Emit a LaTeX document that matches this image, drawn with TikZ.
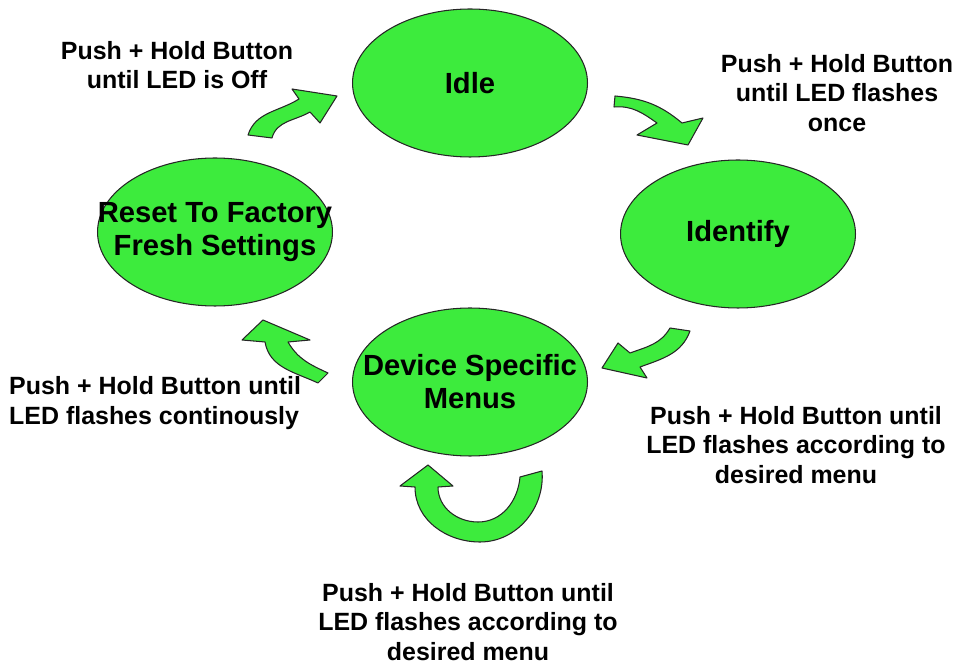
\documentclass[tikz,border=0pt]{standalone}
\usepackage{fontspec}
\setmainfont{Liberation Sans}
\usetikzlibrary{shapes.geometric}
\definecolor{stategreen}{RGB}{61,235,61}
\begin{document}
\begin{tikzpicture}[x=0.02cm,y=0.02cm,
	state/.style={ellipse,draw=black!85,line width=0.6pt,fill=stategreen,inner sep=0pt,minimum width=4.7cm,minimum height=2.96cm},
	statetext/.style={align=center,font=\fontsize{16.6}{18.7}\selectfont\bfseries},
	hint/.style={align=center,font=\fontsize{14.2}{16.7}\selectfont\bfseries},
	bigarrow/.style={draw=black!85,line width=0.6pt,fill=stategreen,line join=round}]
		\useasboundingbox (0,0) rectangle (957,663);
		\node[state] (idle) at (470,580) {};
		\node[state] (ident) at (738,429) {};
		\node[state] (reset) at (215,431) {};
		\node[state] (menus) at (470,281) {};
		\node[statetext] (idletext) at (idle) {Idle};
		\node[statetext] (identtext) at (ident) {Identify};
		\node[statetext] (resettext) at (reset) {Reset To Factory\\Fresh Settings};
		\node[statetext] (menustext) at (menus) {Device Specific\\Menus};
		\node[hint] (toidle) at (177,598) {Push + Hold Button\\until LED is Off};
		\node[hint] (toident) at (837,570) {Push + Hold Button\\until LED flashes\\once};
		\node[hint] (tomenus) at (796,218) {Push + Hold Button until\\LED flashes according to\\desired menu};
		\node[hint,align=left,anchor=west] (toreset) at (3,260) {Push + Hold Button until\\LED flashes continously};
		\node[hint] (tomenu) at (468,41) {Push + Hold Button until\\LED flashes according to\\desired menu};
		\draw[bigarrow] (248,528) to[out=72,in=212] (299,564) -- (292,574) -- (337,567) -- (320,540) -- (310,551) to[out=210,in=75] (272,525) -- cycle;
		\draw[bigarrow] (615,567) to[out=-5,in=140] (682,540) -- (703,545) -- (688,518) -- (637,528) -- (657,540) to[out=145,in=5] (614,556) -- cycle;
		\draw[bigarrow] (670,335) to[out=240,in=20] (630,310) -- (618,320) -- (602,295) -- (647,285) -- (640,296) to[out=20,in=250] (690,332) -- cycle;
		\draw[bigarrow] (263,343) -- (310,323) -- (288,321) to[out=-60,in=155] (328,290) -- (318,280) to[out=155,in=-80] (265,321) -- (242,323) -- cycle;
		\draw[bigarrow] (415,176) to[out=-90,in=180] (480,121) to[out=0,in=-85] (542,192) -- (520,186) to[out=-95,in=0] (478,141) to[out=180,in=-90] (438,176) -- (453,177) -- (428,198) -- (400,177) -- cycle;
	\end{tikzpicture}
\end{document}
